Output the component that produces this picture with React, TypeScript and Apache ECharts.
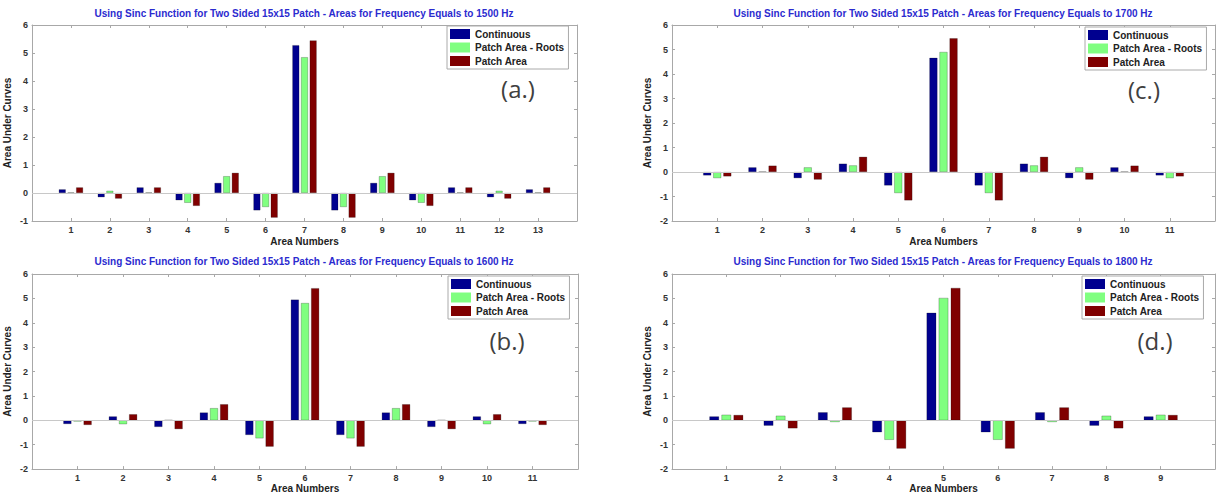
import React, { useEffect, useRef } from "react";
import * as echarts from "echarts";

// ---------- data ----------
const seriesNames = ["Continuous", "Patch Area - Roots", "Patch Area"];
const seriesColors = ["#00008F", "#80FF80", "#800000"];

// (a.) 1500 Hz
const areasA = [1, 2, 3, 4, 5, 6, 7, 8, 9, 10, 11, 12, 13];
const contA = [0.13, -0.15, 0.2, -0.26, 0.36, -0.62, 5.28, -0.62, 0.36, -0.26, 0.2, -0.15, 0.13];
const rootsA = [0.02, 0.08, 0.02, -0.35, 0.6, -0.5, 4.85, -0.5, 0.6, -0.35, 0.02, 0.08, 0.02];
const patchA = [0.2, -0.2, 0.2, -0.46, 0.72, -0.88, 5.45, -0.88, 0.72, -0.46, 0.2, -0.2, 0.2];

// (b.) 1600 Hz
const areasB = [1, 2, 3, 4, 5, 6, 7, 8, 9, 10, 11];
const contB = [-0.15, 0.16, -0.27, 0.32, -0.6, 4.95, -0.6, 0.32, -0.27, 0.16, -0.15];
const rootsB = [-0.05, -0.16, 0.01, 0.5, -0.74, 4.81, -0.74, 0.5, 0.01, -0.16, -0.05];
const patchB = [-0.19, 0.25, -0.36, 0.66, -1.08, 5.42, -1.08, 0.66, -0.36, 0.25, -0.19];

// (c.) 1700 Hz
const areasC = [1, 2, 3, 4, 5, 6, 7, 8, 9, 10, 11];
const contC = [-0.14, 0.19, -0.25, 0.34, -0.55, 4.66, -0.55, 0.34, -0.25, 0.19, -0.14];
const rootsC = [-0.25, 0.02, 0.19, 0.27, -0.86, 4.9, -0.86, 0.27, 0.19, 0.02, -0.25];
const patchC = [-0.18, 0.26, -0.31, 0.62, -1.16, 5.46, -1.16, 0.62, -0.31, 0.26, -0.18];

// (d.) 1800 Hz
const areasD = [1, 2, 3, 4, 5, 6, 7, 8, 9];
const contD = [0.16, -0.22, 0.33, -0.49, 4.41, -0.49, 0.33, -0.22, 0.16];
const rootsD = [0.23, 0.19, -0.07, -0.8, 5.02, -0.8, -0.07, 0.19, 0.23];
const patchD = [0.22, -0.33, 0.53, -1.16, 5.43, -1.16, 0.53, -0.33, 0.22];

const titlePrefix = "Using Sinc Function for Two Sided 15x15 Patch - Areas for Frequency Equals to ";
const xAxisTitle = "Area Numbers";
const yAxisTitle = "Area Under Curves";

// ---------- layout ----------
const FONT = "'Liberation Sans', Arial, sans-serif";

const panels = [
  {
    freq: "1500 Hz", tag: "(a.)", areas: areasA, values: [contA, rootsA, patchA], yMin: -1,
    grid: { left: 32, top: 25, width: 545, height: 196 },
    titlePos: [304, 13], legendPos: [447, 26], tagPos: [518, 88], nameGap: 15,
  },
  {
    freq: "1700 Hz", tag: "(c.)", areas: areasC, values: [contC, rootsC, patchC], yMin: -2,
    grid: { left: 672, top: 25, width: 543, height: 196 },
    titlePos: [943, 13], legendPos: [1085, 27], tagPos: [1144, 89], nameGap: 15,
  },
  {
    freq: "1600 Hz", tag: "(b.)", areas: areasB, values: [contB, rootsB, patchB], yMin: -2,
    grid: { left: 32, top: 274, width: 546, height: 198 },
    titlePos: [304, 261], legendPos: [448, 276], tagPos: [507, 340], nameGap: 11,
  },
  {
    freq: "1800 Hz", tag: "(d.)", areas: areasD, values: [contD, rootsD, patchD], yMin: -2,
    grid: { left: 672, top: 274, width: 543, height: 198 },
    titlePos: [943, 261], legendPos: [1082, 276], tagPos: [1155, 340], nameGap: 11,
  },
];

const AXIS_COLOR = "#a8a8a8";
const LABEL_COLOR = "#333";

function buildOption() {
  const grid: any[] = [];
  const xAxis: any[] = [];
  const yAxis: any[] = [];
  const series: any[] = [];
  const legend: any[] = [];
  const graphic: any[] = [];

  panels.forEach((p, i) => {
    const n = p.areas.length;
    grid.push({ ...p.grid, containLabel: false, show: false });

    const xBase = {
      gridIndex: i, type: "value", min: 0, max: n + 1, interval: 1,
      axisLine: { show: true, onZero: false, lineStyle: { color: AXIS_COLOR, width: 1 } },
      axisTick: { show: true, inside: true, length: 3, lineStyle: { color: AXIS_COLOR } },
      splitLine: { show: false },
    };
    xAxis.push({
      ...xBase, position: "bottom",
      axisLabel: {
        fontSize: 9, fontWeight: "bold", color: LABEL_COLOR, fontFamily: FONT, margin: 4,
        formatter: (v: number) => (v >= 1 && v <= n ? String(v) : ""),
      },
      name: xAxisTitle, nameLocation: "middle", nameGap: p.nameGap,
      nameTextStyle: { fontSize: 10, fontWeight: "bold", color: "#222", fontFamily: FONT },
    });
    xAxis.push({ ...xBase, position: "top", axisLabel: { show: false } });

    const yBase = {
      gridIndex: i, type: "value", min: p.yMin, max: 6, interval: 1,
      axisLine: { show: true, onZero: false, lineStyle: { color: AXIS_COLOR, width: 1 } },
      axisTick: { show: true, inside: true, length: 3, lineStyle: { color: AXIS_COLOR } },
      splitLine: { show: false },
    };
    yAxis.push({
      ...yBase, position: "left",
      axisLabel: { fontSize: 9, fontWeight: "bold", color: LABEL_COLOR, fontFamily: FONT, margin: 4 },
      name: yAxisTitle, nameLocation: "middle", nameGap: 20, nameRotate: 90,
      nameTextStyle: { fontSize: 10, fontWeight: "bold", color: "#222", fontFamily: FONT },
    });
    yAxis.push({ ...yBase, position: "right", axisLabel: { show: false } });

    p.values.forEach((vals, j) => {
      const s: any = {
        type: "bar",
        name: seriesNames[j],
        xAxisIndex: 2 * i,
        yAxisIndex: 2 * i,
        data: p.areas.map((a, k) => [a, vals[k]]),
        barWidth: "17.8%",
        barGap: "25%",
        itemStyle: { color: seriesColors[j], borderColor: "rgba(0,0,0,0.45)", borderWidth: 0.5 },
        emphasis: { disabled: true },
      };
      if (j === 0) {
        s.markLine = {
          silent: true, symbol: "none", label: { show: false },
          lineStyle: { color: "#c8c8c8", type: "solid", width: 1 },
          data: [{ yAxis: 0 }],
        };
      }
      series.push(s);
    });

    legend.push({
      left: p.legendPos[0], top: p.legendPos[1],
      orient: "vertical", icon: "rect", itemWidth: 20, itemHeight: 10, itemGap: 3.5,
      padding: [3, 4, 3, 3], backgroundColor: "#fff", borderColor: "#aaa", borderWidth: 1,
      selectedMode: false, data: seriesNames,
      itemStyle: { borderWidth: 0 },
      textStyle: { fontSize: 10, fontWeight: "bold", color: "#222", fontFamily: FONT, lineHeight: 10 },
    });

    graphic.push({
      type: "text", x: p.titlePos[0], y: p.titlePos[1],
      style: {
        text: titlePrefix + p.freq, fill: "#2b2bcf", font: `bold 10px ${FONT}`,
        textAlign: "center", textVerticalAlign: "middle",
      },
    });
    graphic.push({
      type: "text", x: p.tagPos[0], y: p.tagPos[1],
      style: {
        text: p.tag, fill: "#404040", font: `24px 'Open Sans', 'Liberation Sans', sans-serif`,
        textAlign: "center", textVerticalAlign: "middle",
      },
    });
  });

  return {
    animation: false,
    backgroundColor: "#fff",
    grid, xAxis, yAxis, series, legend, graphic,
  };
}

export default function App() {
  const ref = useRef<HTMLDivElement>(null);
  useEffect(() => {
    if (!ref.current) return;
    const chart = echarts.init(ref.current, undefined, { renderer: "svg" });
    chart.setOption(buildOption() as any);
    return () => chart.dispose();
  }, []);
  return (
    <div
      ref={ref}
      style={{ position: "fixed", left: 0, top: 0, width: 1221, height: 494, background: "#fff" }}
    />
  );
}
